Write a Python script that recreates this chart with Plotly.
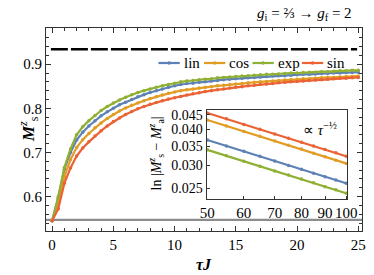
import plotly.graph_objects as go

# ---------------- data ----------------
tau = [i * 0.5 for i in range(51)]  # 0, 0.5, ..., 25

M_lin = [0.545, 0.596, 0.662, 0.700, 0.728, 0.746, 0.760, 0.772, 0.783, 0.792,
         0.800, 0.808, 0.814, 0.820, 0.826, 0.831, 0.836, 0.840, 0.844, 0.848,
         0.851, 0.854, 0.856, 0.857, 0.859, 0.860, 0.862, 0.863, 0.865, 0.866,
         0.867, 0.868, 0.869, 0.870, 0.871, 0.872, 0.873, 0.874, 0.874, 0.875,
         0.876, 0.877, 0.877, 0.878, 0.879, 0.879, 0.880, 0.880, 0.881, 0.881,
         0.882]
M_cos = [0.545, 0.585, 0.645, 0.684, 0.711, 0.729, 0.743, 0.756, 0.767, 0.777,
         0.786, 0.794, 0.801, 0.807, 0.812, 0.817, 0.822, 0.826, 0.830, 0.834,
         0.837, 0.840, 0.842, 0.844, 0.846, 0.848, 0.849, 0.851, 0.852, 0.854,
         0.855, 0.856, 0.858, 0.859, 0.860, 0.861, 0.862, 0.863, 0.864, 0.865,
         0.866, 0.867, 0.867, 0.868, 0.869, 0.870, 0.870, 0.871, 0.872, 0.872,
         0.873]
M_exp = [0.545, 0.600, 0.666, 0.708, 0.740, 0.758, 0.772, 0.784, 0.795, 0.804,
         0.812, 0.819, 0.825, 0.831, 0.836, 0.840, 0.844, 0.848, 0.851, 0.854,
         0.857, 0.860, 0.862, 0.863, 0.865, 0.866, 0.867, 0.869, 0.870, 0.871,
         0.872, 0.873, 0.874, 0.875, 0.876, 0.877, 0.877, 0.878, 0.879, 0.880,
         0.880, 0.881, 0.882, 0.882, 0.883, 0.883, 0.884, 0.885, 0.885, 0.886,
         0.886]
M_sin = [0.545, 0.572, 0.630, 0.665, 0.692, 0.710, 0.724, 0.737, 0.749, 0.760,
         0.770, 0.778, 0.786, 0.793, 0.799, 0.804, 0.809, 0.813, 0.817, 0.821,
         0.824, 0.827, 0.830, 0.833, 0.835, 0.838, 0.840, 0.842, 0.844, 0.846,
         0.848, 0.849, 0.851, 0.852, 0.854, 0.855, 0.856, 0.858, 0.859, 0.860,
         0.861, 0.862, 0.863, 0.864, 0.865, 0.866, 0.867, 0.868, 0.868, 0.869,
         0.870]

M_adiabatic = 0.934   # black dashed line
M_initial = 0.547     # gray line

tau_inset = [50, 55, 60, 65, 70, 75, 80, 85, 90, 95, 100]
D_lin = [0.0368, 0.0351, 0.0336, 0.0323, 0.0311, 0.0300, 0.0291, 0.0282, 0.0274, 0.0267, 0.0260]
D_cos = [0.0432, 0.0412, 0.0394, 0.0379, 0.0365, 0.0353, 0.0342, 0.0331, 0.0322, 0.0313, 0.0305]
D_exp = [0.0340, 0.0324, 0.0310, 0.0298, 0.0287, 0.0278, 0.0269, 0.0261, 0.0253, 0.0247, 0.0240]
D_sin = [0.0457, 0.0436, 0.0417, 0.0401, 0.0386, 0.0373, 0.0361, 0.0351, 0.0341, 0.0332, 0.0323]

names = ["lin", "cos", "exp", "sin"]
colors = ["#5E81B5", "#E19C24", "#8FB032", "#EB6235"]

xticks = [0, 5, 10, 15, 20, 25]
yticks = [0.6, 0.7, 0.8, 0.9]
xticks_inset = [50, 60, 70, 80, 90, 100]
yticks_inset = [0.025, 0.030, 0.035, 0.040, 0.045]

FONT = "Times New Roman"

W, H = 374, 275
ML, MR, MT, MB = 46, 2, 28, 44
PW, PH = W - ML - MR, H - MT - MB


def px2paper_x(px):
    return (px - ML) / PW


def px2paper_y(py):
    return (H - MB - py) / PH


fig = go.Figure()

# reference lines
fig.add_trace(go.Scatter(x=[-0.5, 25.3], y=[M_initial, M_initial], mode="lines",
                         line=dict(color="#8c8c8c", width=2.2), showlegend=False,
                         hoverinfo="skip"))
fig.add_trace(go.Scatter(x=[-0.1, 24.9], y=[M_adiabatic, M_adiabatic], mode="lines",
                         line=dict(color="black", width=2.6, dash="17px,3px"),
                         showlegend=False, hoverinfo="skip"))

main_series = [M_lin, M_cos, M_exp, M_sin]
for name, col, ys in zip(names, colors, main_series):
    fig.add_trace(go.Scatter(x=tau, y=ys, mode="lines+markers", name=name,
                             line=dict(color=col, width=2.2),
                             marker=dict(color=col, size=3.5), showlegend=False))

inset_series = [D_lin, D_cos, D_exp, D_sin]
for name, col, ys in zip(names, colors, inset_series):
    fig.add_trace(go.Scatter(x=tau_inset, y=ys, mode="lines+markers", name=name,
                             line=dict(color=col, width=2.2),
                             marker=dict(color=col, size=3.5),
                             xaxis="x2", yaxis="y2", showlegend=False))

axis_common = dict(showline=True, linecolor="#333333", linewidth=1, mirror="allticks",
                   ticks="inside", tickcolor="#333333", ticklen=5, showgrid=False,
                   zeroline=False, tickfont=dict(family=FONT, size=15, color="black"))

fig.update_layout(
    width=W, height=H,
    margin=dict(l=ML, r=MR, t=MT, b=MB),
    paper_bgcolor="white", plot_bgcolor="white",
    font=dict(family=FONT, color="black"),
    xaxis=dict(range=[-0.5, 25.3], tickvals=xticks,
               minor=dict(ticks="inside", dtick=1, ticklen=3, tickcolor="#333333"),
               **axis_common),
    yaxis=dict(range=[0.522, 0.982], tickvals=yticks, ticktext=[f"{v:.1f}" for v in yticks],
               minor=dict(ticks="inside", dtick=0.02, ticklen=3, tickcolor="#333333"),
               **axis_common),
    xaxis2=dict(type="log", domain=[0.508, 0.953], anchor="y2",
                range=[1.6972, 2.0022], tickvals=xticks_inset,
                ticktext=[str(v) for v in xticks_inset],
                showline=True, linecolor="#333333", linewidth=1, mirror=True,
                ticks="inside", ticklen=3, tickcolor="#333333", showgrid=False,
                tickfont=dict(family=FONT, size=15, color="black")),
    yaxis2=dict(type="log", domain=[0.158, 0.596], anchor="x2",
                range=[-1.6394, -1.3298], tickvals=yticks_inset,
                ticktext=[f"{v:.3f}" for v in yticks_inset],
                showline=True, linecolor="#333333", linewidth=1, mirror=True,
                ticks="inside", ticklen=3, tickcolor="#333333", showgrid=False,
                tickfont=dict(family=FONT, size=14, color="black")),
    showlegend=False,
)

# hand-built compact legend (symbol: short line with a dot, then label)
legend_y = px2paper_y(63)
legend_line_px = [(162, 184), (209, 231), (259, 281), (310, 332)]
for (x0, x1), name, col in zip(legend_line_px, names, colors):
    fig.add_shape(type="line", xref="paper", yref="paper",
                  x0=px2paper_x(x0), x1=px2paper_x(x1), y0=legend_y, y1=legend_y,
                  line=dict(color=col, width=2.2))
    xm = (x0 + x1) / 2
    fig.add_shape(type="circle", xref="paper", yref="paper",
                  x0=px2paper_x(xm - 1.8), x1=px2paper_x(xm + 1.8),
                  y0=legend_y - 1.8 / PH, y1=legend_y + 1.8 / PH,
                  line=dict(width=0), fillcolor=col)
    fig.add_annotation(xref="paper", yref="paper", x=px2paper_x(x1 + 2), xanchor="left",
                       y=legend_y, yanchor="middle", text=name, showarrow=False,
                       font=dict(family=FONT, size=15))

fig.add_annotation(xref="paper", yref="paper", x=0.5, y=px2paper_y(264), yanchor="middle",
                   text="<b><i>τJ</i></b>", showarrow=False,
                   font=dict(family=FONT, size=16))
fig.add_annotation(xref="paper", yref="paper", x=px2paper_x(13), y=0.5, textangle=-90,
                   text="<b><i>M</i></b><sup><i>z</i></sup><sub>s</sub>", showarrow=False,
                   font=dict(family=FONT, size=17))
fig.add_annotation(xref="paper", yref="paper", x=px2paper_x(364), xanchor="right",
                   y=px2paper_y(14), yanchor="middle",
                   text="<i>g</i><sub>i</sub> = ⅔ → <i>g</i><sub>f</sub> = 2", showarrow=False,
                   font=dict(family=FONT, size=15))
fig.add_annotation(xref="paper", yref="paper", x=px2paper_x(160), y=px2paper_y(154),
                   textangle=-90,
                   text="ln |<i>M</i><sup><i>z</i></sup><sub>s</sub> − <i>M</i><sup><i>z</i></sup><sub>a</sub>|",
                   showarrow=False, font=dict(family=FONT, size=14))
fig.add_annotation(xref="paper", yref="paper", x=px2paper_x(348), xanchor="right",
                   y=px2paper_y(129), yanchor="middle",
                   text="∝ <i>τ</i><sup>−½</sup>", showarrow=False,
                   font=dict(family=FONT, size=15))

fig.write_html("out.html", config={"displayModeBar": False, "staticPlot": True},
               post_script="document.body.style.margin='0';document.body.style.padding='0';")
